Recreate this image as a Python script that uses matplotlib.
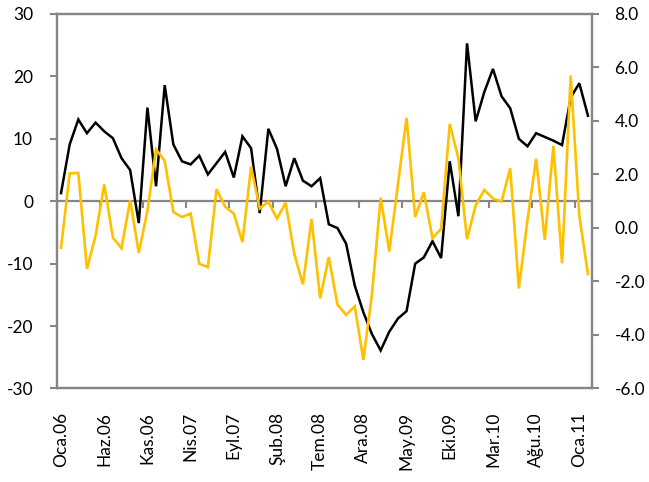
import matplotlib
matplotlib.use("Agg")
import matplotlib.pyplot as plt
from matplotlib.ticker import FuncFormatter, FixedLocator

plt.rcParams['font.family'] = ['Lato', 'DejaVu Sans']

month_abbr = ['Oca', 'Şub', 'Mar', 'Nis', 'May', 'Haz',
              'Tem', 'Ağu', 'Eyl', 'Eki', 'Kas', 'Ara']
years = ['06', '07', '08', '09', '10', '11']

# left axis series (black)
black = [1.3, 9.1, 13.1, 10.9, 12.6, 11.2, 10.1, 6.9, 5.0, -3.5,
         15.0, 2.4, 18.6, 9.1, 6.4, 5.9, 7.3, 4.3, 6.1, 7.9,
         3.8, 10.4, 8.5, -1.9, 11.6, 8.4, 2.4, 6.9, 3.3, 2.4,
         3.7, -3.7, -4.3, -6.8, -13.5, -17.8, -21.3, -23.9, -20.9, -18.8,
         -17.6, -10.0, -9.0, -6.4, -9.1, 6.4, -2.4, 25.3, 12.8, 17.5,
         21.2, 16.8, 14.9, 10.0, 8.8, 10.9, 10.3, 9.7, 9.0, 16.6,
         18.9, 13.7]

# right axis series (orange)
orange = [-0.74, 2.04, 2.06, -1.53, -0.28, 1.63, -0.36, -0.76, 1.04, -0.93,
          0.64, 2.94, 2.51, 0.60, 0.41, 0.54, -1.34, -1.46, 1.45, 0.79,
          0.54, -0.53, 2.29, 0.73, 0.98, 0.35, 0.94, -0.96, -2.11, 0.33,
          -2.63, -1.09, -2.86, -3.25, -2.93, -4.93, -2.46, 1.13, -0.88, 1.62,
          4.12, 0.41, 1.34, -0.38, -0.03, 3.89, 2.60, -0.42, 0.85, 1.42,
          1.10, 0.99, 2.23, -2.26, 0.30, 2.59, -0.44, 3.07, -1.32, 5.70,
          0.45, -1.72]

categories = [f"{m}.{y}" for y in years for m in month_abbr][:len(black)]
left_ticks = [-30, -20, -10, 0, 10, 20, 30]
right_ticks = [-6, -4, -2, 0, 2, 4, 6, 8]

GRAY = '#868686'
fig = plt.figure(figsize=(6.49, 4.82), dpi=100)
ax = fig.add_axes([0.0874, 0.194, 0.9126 - 0.0874, 0.971 - 0.194])
ax2 = ax.twinx()

x = list(range(len(black)))
ax.axhline(0, color=GRAY, lw=1.6, zorder=1)
ax.plot(x, black, color='#000000', lw=1.8, zorder=3, solid_joinstyle='miter')
ax2.plot(x, orange, color='#FFC000', lw=1.9, zorder=3, solid_joinstyle='miter')

ax.set_xlim(-0.5, len(black) - 0.5)
ax.set_ylim(-30, 30)
ax2.set_ylim(-6, 8)

ax.set_yticks(left_ticks)
ax.yaxis.set_major_formatter(FuncFormatter(lambda v, p: f"{v:.0f}".replace('−', '-')))
ax2.set_yticks(right_ticks)
ax2.yaxis.set_major_formatter(FuncFormatter(lambda v, p: f"{v:.1f}"))

shown = list(range(0, len(black), 5))
ax.set_xticks(shown)
ax.set_xticklabels([categories[i] for i in shown], rotation=90)
ax.tick_params(axis='x', length=0, pad=17, labelsize=12.5)
ax.tick_params(axis='y', direction='out', length=5, width=1.5, color=GRAY,
               pad=12, labelsize=12.5)
ax2.tick_params(axis='y', direction='out', length=5, width=1.5, color=GRAY,
                pad=11, labelsize=12.5)

for a in (ax, ax2):
    for s in a.spines.values():
        s.set_color(GRAY)
        s.set_linewidth(1.6)

# category axis crossing at zero, tick marks between categories
sec = ax.secondary_xaxis(0.5)
sec.set_xticks([i - 0.5 for i in range(5, len(black), 5)])
sec.tick_params(axis='x', direction='in', length=5, width=1.5, color=GRAY,
                labeltop=False, labelbottom=False)
for s in sec.spines.values():
    s.set_visible(False)

fig.savefig('out.png', dpi=100)
